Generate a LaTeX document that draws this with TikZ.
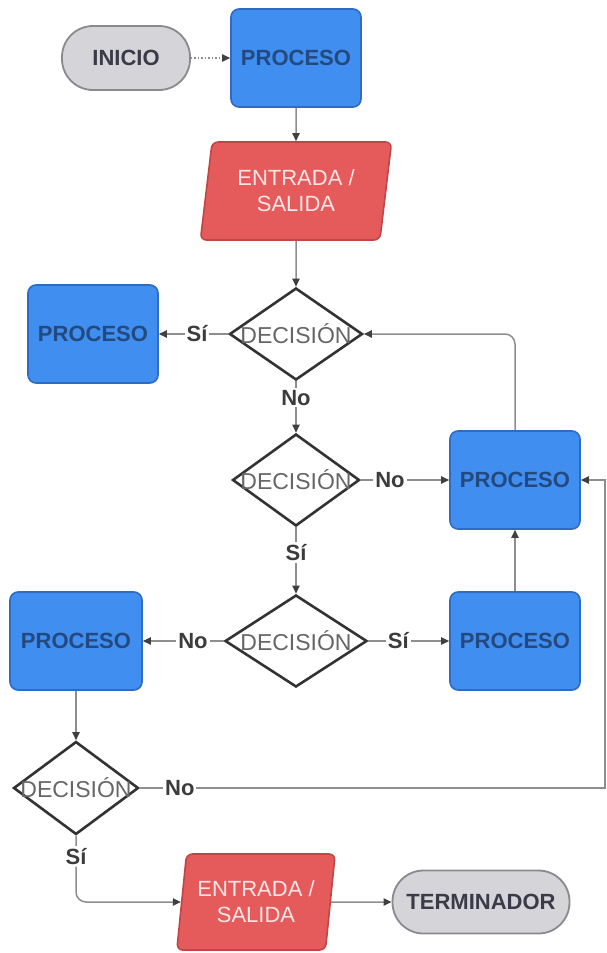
\documentclass[tikz,border=0pt]{standalone}
\usepackage{fontspec}
\setmainfont{Liberation Sans}
\usetikzlibrary{shapes.geometric,arrows.meta}

\definecolor{procfill}{HTML}{3F8EF0}
\definecolor{procdraw}{HTML}{2F6BC0}
\definecolor{proctext}{HTML}{24497F}
\definecolor{iofill}{HTML}{E55B5B}
\definecolor{iodraw}{HTML}{C24545}
\definecolor{iotext}{HTML}{FFE6E6}
\definecolor{termfill}{HTML}{D5D5D9}
\definecolor{termdraw}{HTML}{8A8A8E}
\definecolor{termtext}{HTML}{3A3A48}
\definecolor{decdraw}{HTML}{333333}
\definecolor{dectext}{HTML}{666666}
\definecolor{linecol}{HTML}{8E8E8E}
\definecolor{lbltext}{HTML}{3C3C3C}

\tikzset{
  proc/.style={rectangle, rounded corners=4pt, fill=procfill, draw=procdraw,
    line width=0.8pt, minimum width=65pt, minimum height=49pt, inner sep=0pt,
    text=proctext, font=\fontsize{11}{13}\selectfont\bfseries},
  io/.style={trapezium, trapezium left angle=79, trapezium right angle=101,
    trapezium stretches=true, rounded corners=3pt, fill=iofill, draw=iodraw,
    line width=0.8pt, inner sep=0pt, align=center, text=iotext,
    font=\fontsize{11}{13}\selectfont},
  term/.style={rectangle, rounded corners=15.5pt, fill=termfill, draw=termdraw,
    line width=0.9pt, inner sep=0pt, text=termtext,
    font=\fontsize{11}{13}\selectfont\bfseries},
  dec/.style={diamond, draw=decdraw, fill=white, line width=1.3pt,
    inner sep=0pt, minimum height=46pt},
  dectxt/.style={text=dectext, font=\fontsize{11.5}{13}\selectfont},
  conn/.style={draw=linecol, line width=0.75pt,
    -{Triangle[length=4pt,width=3.6pt,color=black!75]}},
  lbl/.style={fill=white, inner sep=1pt, text=lbltext,
    font=\fontsize{11}{13}\selectfont\bfseries},
}

\begin{document}
\begin{tikzpicture}[x=0.5pt,y=-0.5pt]
\useasboundingbox (0,0) rectangle (606,953);

% top row
\node[term, minimum width=64pt, minimum height=32pt] (inicio) at (126,58) {INICIO};
\node[proc] (p1) at (296,58) {PROCESO};
\node[io, minimum width=96pt, minimum height=49pt] (e1) at (296,191) {ENTRADA /\\SALIDA};

% decisions in the middle column
\node[dec, minimum width=66.5pt, label={[dectxt]center:DECISIÓN}] (d1) at (296,334) {};
\node[dec, minimum width=63.5pt, label={[dectxt]center:DECISIÓN}] (d2) at (296,480) {};
\node[dec, minimum width=71pt, label={[dectxt]center:DECISIÓN}] (d3) at (296,641) {};

% process boxes
\node[proc] (pl) at (93,334) {PROCESO};
\node[proc] (pr) at (515,480) {PROCESO};
\node[proc, minimum width=66pt] (pbl) at (76,641) {PROCESO};
\node[proc] (pbr) at (515,641) {PROCESO};

% lower part
\node[dec, minimum width=62.5pt, minimum height=46.5pt, label={[dectxt]center:DECISIÓN}] (d4) at (76,788) {};
\node[io, minimum width=79.5pt, minimum height=48pt] (e2) at (256,902) {ENTRADA /\\SALIDA};
\node[term, minimum width=88.5pt, minimum height=31.5pt] (fin) at (481,902) {TERMINADOR};

% loop return along the right edge, and the bend below the last decision
\coordinate (edgeb) at (605,788);
\coordinate (edget) at (605,480);
\coordinate (bend) at (d4.south |- e2.west);

% connectors
\draw[conn, densely dotted] (inicio) -- (p1);
\draw[conn] (p1) -- (e1);
\draw[conn] (e1) -- (d1);
\draw[conn] (d1.west) -- node[lbl, pos=0.45] {Sí} (pl.east);
\draw[conn, rounded corners=5pt] (pr.north) |- (d1.east);
\draw[conn] (d1.south) -- node[lbl, pos=0.32] {No} (d2.north);
\draw[conn] (d2.east) -- node[lbl, pos=0.33] {No} (pr.west);
\draw[conn] (d2.south) -- node[lbl, pos=0.38] {Sí} (d3.north);
\draw[conn] (d3.west) -- node[lbl, pos=0.38] {No} (pbl.east);
\draw[conn] (d3.east) -- node[lbl, pos=0.37] {Sí} (pbr.west);
\draw[conn] (pbr.north) -- (pr.south);
\draw[conn] (pbl.south) -- (d4.north);
\draw[conn] (d4.east) -- node[lbl, pos=0.086] {No} (edgeb) -- (edget) -- (pr.east);
\draw[conn, rounded corners=5pt] (d4.south) -- node[lbl, pos=0.31] {Sí} (bend) -- (e2.west);
\draw[conn] (e2.east) -- (fin.west);
\end{tikzpicture}
\end{document}
